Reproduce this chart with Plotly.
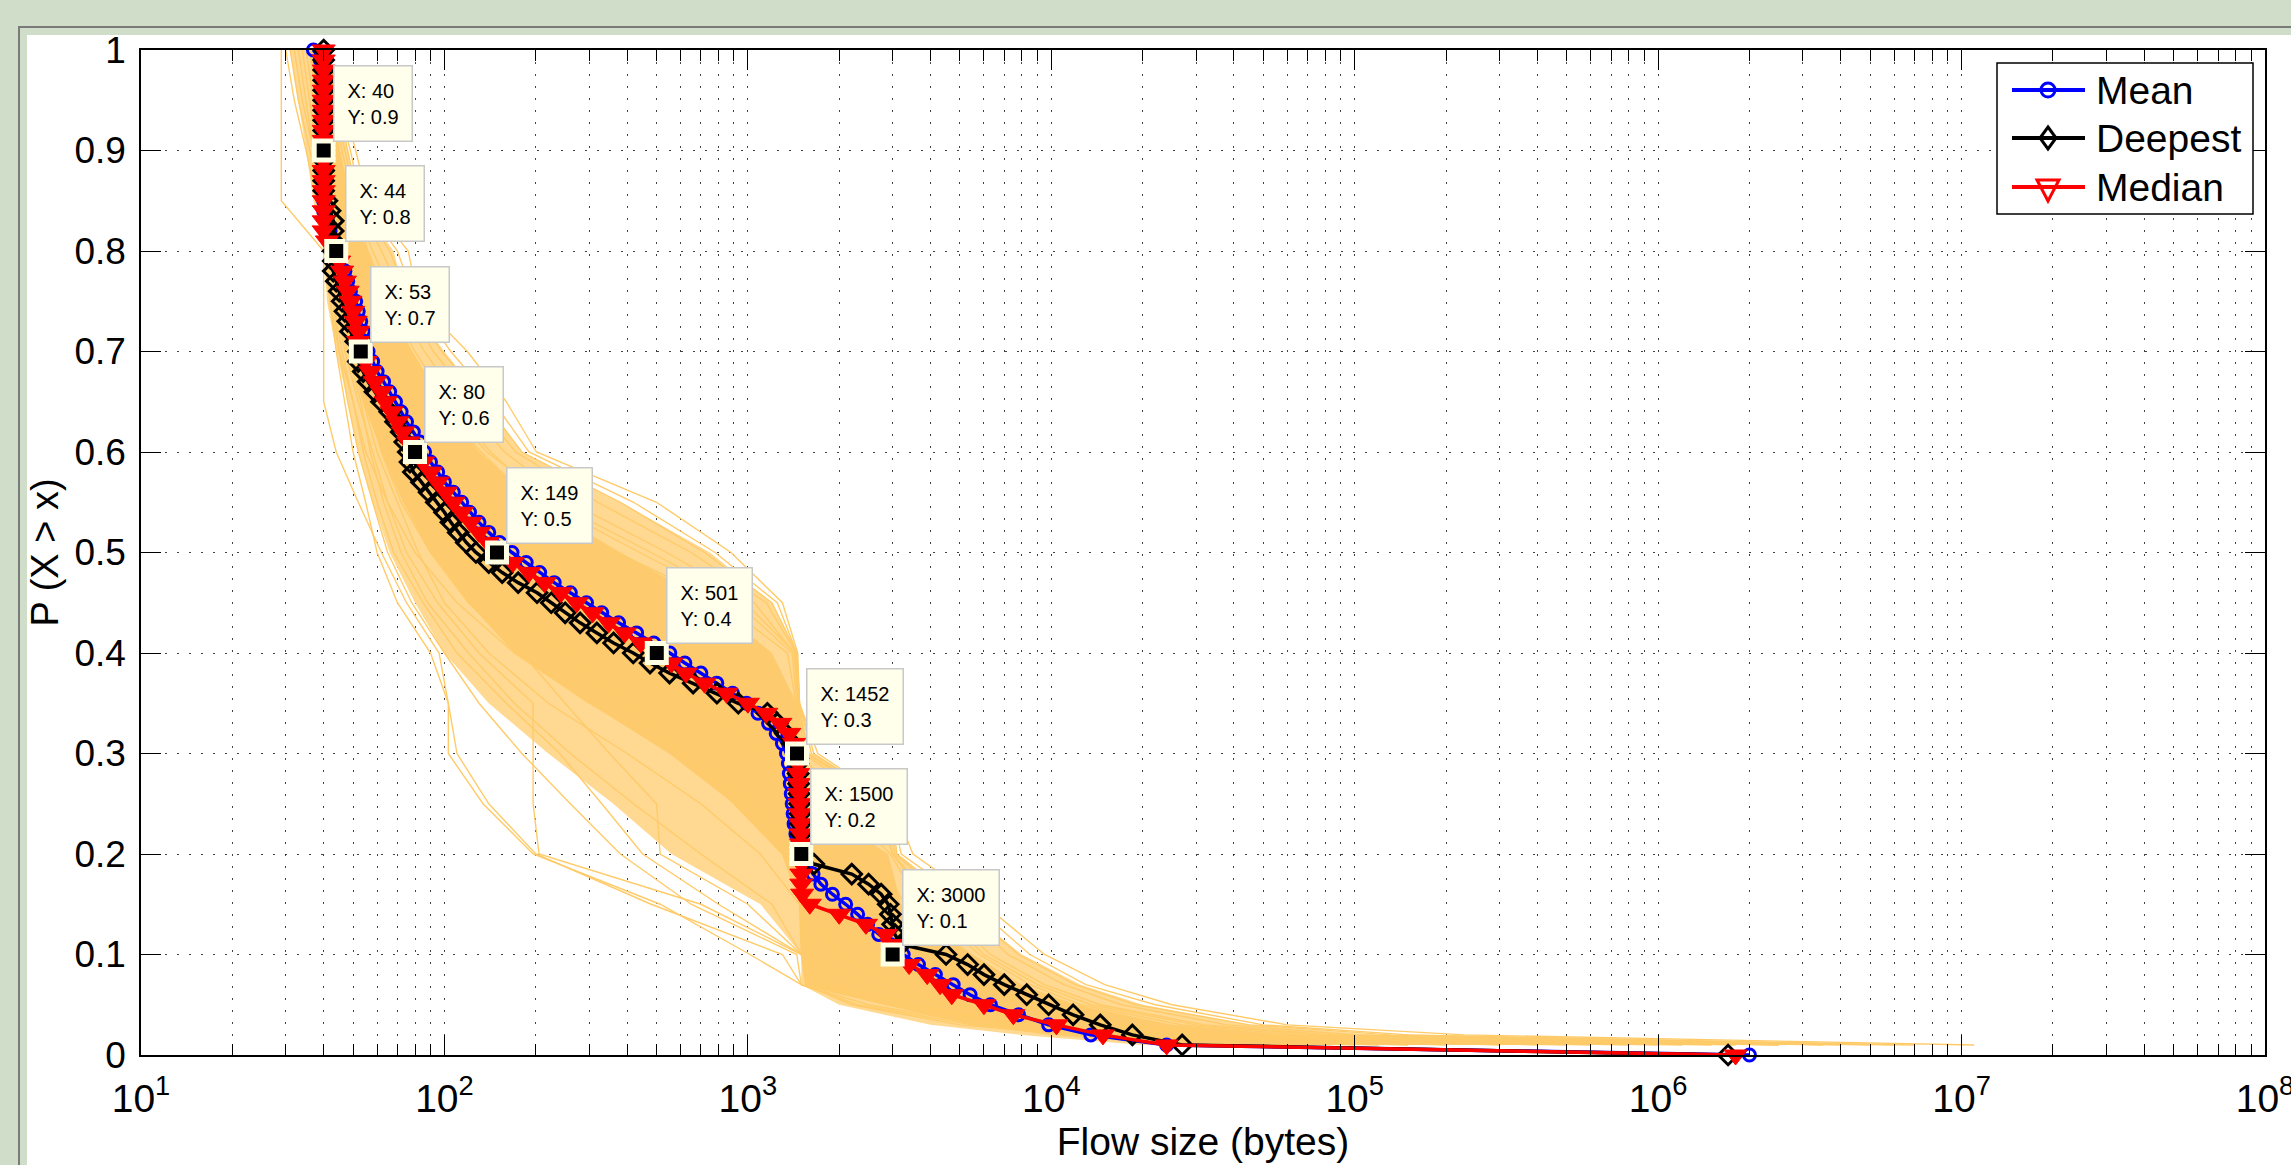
import math
import plotly.graph_objects as go

# ---------------- data ----------------
P_LEVELS = [1.00, 0.99, 0.98, 0.97, 0.96, 0.95, 0.94, 0.93, 0.92, 0.91,
            0.90, 0.89, 0.88, 0.87, 0.86, 0.85, 0.84, 0.83, 0.82, 0.81,
            0.80, 0.79, 0.78, 0.77, 0.76, 0.75, 0.74, 0.73, 0.72, 0.71,
            0.70, 0.69, 0.68, 0.67, 0.66, 0.65, 0.64, 0.63, 0.62, 0.61,
            0.60, 0.59, 0.58, 0.57, 0.56, 0.55, 0.54, 0.53, 0.52, 0.51,
            0.50, 0.49, 0.48, 0.47, 0.46, 0.45, 0.44, 0.43, 0.42, 0.41,
            0.40, 0.39, 0.38, 0.37, 0.36, 0.35, 0.34, 0.33, 0.32, 0.31,
            0.30, 0.29, 0.28, 0.27, 0.26, 0.25, 0.24, 0.23, 0.22, 0.21,
            0.20, 0.19, 0.18, 0.17, 0.16, 0.15, 0.14, 0.13, 0.12, 0.11,
            0.10, 0.09, 0.08, 0.07, 0.06, 0.05, 0.04, 0.03, 0.02, 0.01,
            0.00]

MEAN_X = [37, 39, 40, 40, 40, 40, 40, 40, 40, 40,
          40, 40, 40, 40, 40, 40, 40, 41, 42, 43,
          44, 45, 47, 48, 49, 51, 52, 53, 54, 55,
          56, 58, 60, 63, 66, 69, 72, 75, 79, 83,
          86, 90, 95, 100, 107, 114, 121, 130, 140, 152,
          167, 186, 206, 230, 260, 294, 330, 375, 430, 490,
          553, 620, 700, 790, 890, 990, 1080, 1170, 1240, 1300,
          1340, 1360, 1370, 1380, 1390, 1400, 1410, 1420, 1440, 1460,
          1490, 1560, 1640, 1740, 1900, 2100, 2300, 2480, 2700, 2950,
          3250, 3650, 4150, 4750, 5400, 6300, 7800, 9800, 13500, 24000,
          2000000]

DEEPEST_X = [40, 40, 40, 40, 40, 40, 40, 40, 40, 40,
             40, 40, 40, 40, 40, 41, 42, 43, 43, 43,
             43, 43, 43, 44, 45, 46, 47, 48, 49, 51,
             52, 52, 54, 56, 59, 62, 66, 69, 72, 74,
             76, 77, 79, 84, 89, 94, 100, 105, 111, 118,
             127, 140, 155, 175, 202, 225, 250, 280, 318, 361,
             419, 476, 552, 660, 791, 930, 1160, 1250, 1330, 1400,
             1450, 1460, 1465, 1470, 1475, 1480, 1485, 1490, 1495, 1498,
             1500, 1650, 2200, 2500, 2750, 2900, 2950, 3000, 3050, 3200,
             4500, 5300, 6000, 7000, 8300, 9800, 11800, 14500, 18500, 27000,
             1700000]

MEDIAN_X = [40, 40, 40, 40, 40, 40, 40, 40, 40, 40,
            40, 40, 40, 40, 40, 40, 40, 40, 40, 41,
            44, 45, 46, 47, 48, 49, 50, 51, 52, 52,
            53, 55, 57, 59, 62, 64, 67, 70, 73, 76,
            80, 85, 90, 95, 101, 107, 114, 122, 130, 139,
            149, 168, 190, 214, 242, 273, 308, 348, 393, 444,
            501, 560, 625, 720, 850, 1000, 1150, 1280, 1370, 1420,
            1452, 1460, 1465, 1470, 1475, 1480, 1485, 1490, 1495, 1498,
            1500, 1500, 1500, 1500, 1510, 1600, 2000, 2450, 2850, 2980,
            3000, 3400, 3900, 4300, 4700, 6000, 7500, 10400, 14800, 24000,
            1800000]

SERIES_NAMES = ["Mean", "Deepest", "Median"]

# individual flow-size CCDF samples (orange), read at these probability levels
ORANGE_Y = [1.00, 0.95, 0.90, 0.85, 0.80, 0.75, 0.70, 0.65, 0.60, 0.55, 0.50, 0.45,
            0.40, 0.35, 0.30, 0.25, 0.20, 0.15, 0.10, 0.07, 0.05, 0.03, 0.02, 0.01]

ORANGE_BAND_LEFT = [31, 33, 35, 37, 40, 41, 44, 48, 52, 58, 66, 80,
                    100, 140, 220, 360, 560, 1100, 1500, 1500, 2000, 4000, 8000, 20000]
ORANGE_BAND_RIGHT = [40, 44, 48, 52, 68, 75, 100, 135, 180, 380, 750, 1200,
                     1450, 1480, 1600, 2950, 3100, 5000, 8000, 12500, 20000, 45000, 120000, 6000000]
ORANGE_CORE_LEFT = [36, 38, 39, 40, 42, 45, 49, 54, 62, 73, 90, 120,
                    170, 300, 550, 900, 1300, 1480, 1500, 1550, 2800, 5500, 10000, 25000]
ORANGE_CORE_RIGHT = [40, 42, 45, 48, 56, 64, 78, 98, 130, 200, 380, 750,
                     1200, 1450, 1490, 1600, 2900, 3200, 5500, 8000, 12000, 25000, 60000, 2000000]

sample_L1 = [29, 29, 29, 29, 40, 42, 45, 50, 55, 65, 80, 110, 170, 300, 600, 1000, 1450, 1500, 2000, 3000, 5000, 9000, 20000, 200000]
sample_L2 = [33, 35, 37, 39, 40, 40, 40, 40, 44, 52, 62, 75, 96, 103, 103, 134, 196, 514, 1016, 1500, 2900, 8700, 31000, 300000]
sample_L3 = [31, 33, 36, 39, 41, 42, 44, 47, 50, 55, 60, 70, 90, 103, 110, 140, 200, 480, 1300, 1500, 2500, 6000, 15000, 100000]
sample_L4 = [35, 37, 39, 40, 42, 44, 47, 52, 58, 65, 75, 95, 130, 196, 196, 196, 205, 700, 1500, 1600, 3000, 7000, 20000, 500000]
sample_L5 = [37, 39, 40, 41, 43, 46, 50, 56, 62, 72, 90, 120, 180, 250, 350, 500, 514, 1000, 1500, 1800, 3500, 8000, 25000, 800000]
sample_L6 = [38, 40, 41, 42, 44, 48, 53, 60, 70, 85, 110, 160, 250, 400, 600, 900, 1300, 1500, 1600, 2500, 4500, 9000, 30000, 1000000]
sample_L7 = [34, 36, 38, 40, 41, 43, 46, 50, 54, 60, 68, 85, 110, 160, 240, 330, 450, 800, 1500, 1550, 2200, 5000, 12000, 150000]
sample_L8 = [36, 38, 40, 41, 42, 45, 49, 54, 60, 70, 82, 100, 140, 220, 400, 700, 1100, 1480, 1500, 2000, 3800, 8000, 22000, 600000]
sample_L9 = [30, 32, 35, 38, 41, 43, 45, 48, 52, 58, 65, 78, 100, 130, 180, 260, 380, 650, 1450, 1500, 2300, 5500, 13000, 120000]
sample_L10 = [32, 34, 37, 40, 42, 44, 48, 53, 57, 63, 72, 88, 120, 170, 260, 420, 700, 1200, 1500, 1700, 3000, 7500, 18000, 400000]
sample_M1 = [39, 41, 43, 46, 50, 56, 64, 75, 95, 130, 200, 330, 600, 1100, 1460, 1500, 1550, 2200, 3500, 5500, 9000, 18000, 45000, 2500000]
sample_M2 = [39, 40, 42, 44, 47, 52, 59, 68, 85, 115, 170, 270, 480, 900, 1400, 1480, 1500, 1900, 3000, 4800, 8000, 16000, 40000, 1500000]
sample_M3 = [38, 40, 41, 43, 45, 49, 55, 63, 76, 100, 140, 220, 380, 700, 1200, 1450, 1500, 1600, 2600, 4200, 7000, 14000, 35000, 1200000]
sample_U1 = [40, 46, 51, 56, 76, 82, 119, 160, 201, 500, 880, 1300, 1460, 1480, 1700, 3000, 3500, 6000, 9500, 15000, 25000, 60000, 230000, 11000000]
sample_U2 = [40, 44, 49, 53, 70, 80, 105, 145, 190, 420, 780, 1250, 1450, 1480, 1650, 2950, 3200, 5500, 8500, 13000, 22000, 50000, 150000, 6000000]
sample_U3 = [40, 43, 47, 51, 62, 74, 92, 125, 172, 320, 650, 1150, 1440, 1470, 1580, 2900, 3050, 4800, 7200, 11000, 17000, 38000, 100000, 5000000]
sample_U4 = [40, 42, 46, 50, 58, 69, 86, 112, 158, 260, 540, 1050, 1420, 1460, 1530, 2600, 3000, 4200, 6300, 9500, 14500, 32000, 85000, 3500000]
sample_U5 = [39, 41, 45, 49, 56, 65, 80, 102, 142, 215, 440, 920, 1400, 1450, 1500, 2000, 2950, 3700, 5800, 8500, 12500, 27000, 65000, 2500000]
sample_U6 = [39, 41, 44, 47, 53, 62, 76, 95, 132, 195, 370, 820, 1350, 1440, 1500, 1700, 2600, 3300, 5200, 7500, 11500, 24000, 55000, 1800000]
sample_U7 = [40, 42, 45, 48, 55, 63, 78, 98, 138, 230, 480, 980, 1430, 1470, 1560, 2800, 3000, 4000, 6000, 9000, 13500, 30000, 75000, 4000000]
sample_U8 = [40, 44, 48, 52, 66, 77, 98, 135, 180, 380, 720, 1200, 1450, 1480, 1620, 2950, 3100, 5000, 7800, 12000, 19000, 45000, 130000, 7000000]

DATATIP_X = [40, 44, 53, 80, 149, 501, 1452, 1500, 3000]
DATATIP_Y = [0.9, 0.8, 0.7, 0.6, 0.5, 0.4, 0.3, 0.2, 0.1]

X_TICK_VALS = [1e1, 1e2, 1e3, 1e4, 1e5, 1e6, 1e7, 1e8]
X_TICK_TEXT = ["10<sup>1</sup>", "10<sup>2</sup>", "10<sup>3</sup>", "10<sup>4</sup>",
               "10<sup>5</sup>", "10<sup>6</sup>", "10<sup>7</sup>", "10<sup>8</sup>"]
Y_TICK_VALS = [0, 0.1, 0.2, 0.3, 0.4, 0.5, 0.6, 0.7, 0.8, 0.9, 1.0]
Y_TICK_TEXT = ["0", "0.1", "0.2", "0.3", "0.4", "0.5", "0.6", "0.7", "0.8", "0.9", "1"]

# ---------------- style ----------------
FONT = "Liberation Sans, Arial, Helvetica, sans-serif"
ORANGE_LINE = "rgb(255,203,105)"
ORANGE_CORE = "rgb(253,203,110)"
ORANGE_BAND = "rgb(255,216,145)"
GRID = "rgba(20,20,20,0.8)"
W, H = 2291, 1165
ML, MR, MT, MB = 141, 26, 50, 110
PW, PH = W - ML - MR, H - MT - MB


def pxx(px):
    return (px - ML) / PW


def pxy(py):
    return (H - MB - py) / PH


fig = go.Figure()

# orange envelopes
fig.add_trace(go.Scatter(
    x=ORANGE_BAND_LEFT + ORANGE_BAND_RIGHT[::-1], y=ORANGE_Y + ORANGE_Y[::-1],
    fill="toself", fillcolor=ORANGE_BAND, mode="lines", line=dict(width=0),
    showlegend=False, hoverinfo="skip"))
fig.add_trace(go.Scatter(
    x=ORANGE_CORE_LEFT + ORANGE_CORE_RIGHT[::-1], y=ORANGE_Y + ORANGE_Y[::-1],
    fill="toself", fillcolor=ORANGE_CORE, mode="lines", line=dict(width=0),
    showlegend=False, hoverinfo="skip"))

samples = [sample_L1, sample_L2, sample_L3, sample_L4, sample_L5, sample_L6, sample_L7,
           sample_L8, sample_L9, sample_L10, sample_M1, sample_M2, sample_M3,
           sample_U1, sample_U2, sample_U3, sample_U4, sample_U5, sample_U6, sample_U7, sample_U8]
for s in samples:
    fig.add_trace(go.Scatter(x=s, y=ORANGE_Y, mode="lines",
                             line=dict(color=ORANGE_LINE, width=1.4),
                             showlegend=False, hoverinfo="skip"))

series = [
    (SERIES_NAMES[0], MEAN_X, "blue", dict(symbol="circle-open", size=12, line=dict(width=3, color="blue"))),
    (SERIES_NAMES[1], DEEPEST_X, "black", dict(symbol="diamond-open", size=15, line=dict(width=3, color="black"))),
    (SERIES_NAMES[2], MEDIAN_X, "red", dict(symbol="triangle-down", size=20, color="red", line=dict(width=1, color="red"))),
]
for name, xs, col, mk in series:
    fig.add_trace(go.Scatter(x=xs, y=P_LEVELS, mode="lines+markers", name=name,
                             line=dict(color=col, width=3.5), marker=mk,
                             showlegend=False, cliponaxis=False))

# data tips
fig.add_trace(go.Scatter(x=DATATIP_X, y=DATATIP_Y, mode="markers",
                         marker=dict(symbol="square", size=19, color="black",
                                     line=dict(color="#FFFFE4", width=5)),
                         showlegend=False, cliponaxis=False, hoverinfo="skip"))
for xv, yv in zip(DATATIP_X, DATATIP_Y):
    fig.add_annotation(x=math.log10(xv), y=yv, xref="x", yref="y",
                       text=f"X: {xv}<br>Y: {yv}", showarrow=False,
                       xanchor="left", yanchor="bottom", xshift=9, yshift=9,
                       align="left", font=dict(family=FONT, size=20, color="black"),
                       bgcolor="#FFFFEB", bordercolor="#C8C8C8", borderwidth=1.5, borderpad=13)

# frame of the figure window
fig.add_shape(type="rect", xref="paper", yref="paper", layer="below",
              x0=pxx(19), x1=pxx(2320), y0=pxy(1200), y1=pxy(27),
              line=dict(color="#7A7A7A", width=2), fillcolor="rgba(0,0,0,0)")
fig.add_shape(type="rect", xref="paper", yref="paper", layer="below",
              x0=pxx(27), x1=pxx(2320), y0=pxy(1200), y1=pxy(35),
              line=dict(width=0), fillcolor="white")

# legend box (drawn by hand to match the original proportions)
LEG_L, LEG_R, LEG_T, LEG_B = 1997, 2253, 63, 214
ROWS = [90, 138, 187]
LINE_X0, LINE_X1, MARK_X, TEXT_X = 2012, 2085, 2048, 2094
fig.add_shape(type="rect", xref="paper", yref="paper", layer="above",
              x0=pxx(LEG_L), x1=pxx(LEG_R), y0=pxy(LEG_B), y1=pxy(LEG_T),
              line=dict(color="black", width=1.5), fillcolor="white")
colors = ["blue", "black", "red"]
for name, col, ry in zip(SERIES_NAMES, colors, ROWS):
    fig.add_shape(type="line", xref="paper", yref="paper", layer="above",
                  x0=pxx(LINE_X0), x1=pxx(LINE_X1), y0=pxy(ry), y1=pxy(ry),
                  line=dict(color=col, width=4))
    fig.add_annotation(x=pxx(TEXT_X), y=pxy(ry), xref="paper", yref="paper",
                       text=name, showarrow=False, xanchor="left", yanchor="middle",
                       font=dict(family=FONT, size=39, color="black"))
# legend symbols
fig.add_shape(type="circle", xref="paper", yref="paper", layer="above",
              x0=pxx(MARK_X - 7), x1=pxx(MARK_X + 7), y0=pxy(ROWS[0] + 7), y1=pxy(ROWS[0] - 7),
              line=dict(color="blue", width=3), fillcolor="rgba(0,0,0,0)")
r1 = ROWS[1]
fig.add_shape(type="path", xref="paper", yref="paper", layer="above",
              path=(f"M {pxx(MARK_X)} {pxy(r1 - 11)} L {pxx(MARK_X + 8)} {pxy(r1)} "
                    f"L {pxx(MARK_X)} {pxy(r1 + 11)} L {pxx(MARK_X - 8)} {pxy(r1)} Z"),
              line=dict(color="black", width=3), fillcolor="rgba(0,0,0,0)")
r2 = ROWS[2]
fig.add_shape(type="path", xref="paper", yref="paper", layer="above",
              path=(f"M {pxx(MARK_X - 11)} {pxy(r2 - 7)} L {pxx(MARK_X + 11)} {pxy(r2 - 7)} "
                    f"L {pxx(MARK_X)} {pxy(r2 + 14)} Z"),
              line=dict(color="red", width=3), fillcolor="rgba(0,0,0,0)")

MINOR_X = [k * d for d in [1e1, 1e2, 1e3, 1e4, 1e5, 1e6, 1e7] for k in range(2, 10)]

fig.update_layout(
    width=W, height=H,
    margin=dict(l=ML, r=MR, t=MT, b=MB, pad=0, autoexpand=False),
    paper_bgcolor="#CFDDC9", plot_bgcolor="white",
    font=dict(family=FONT, color="black"),
    showlegend=False,
    xaxis=dict(type="log", range=[1, 8], tickmode="array", tickvals=X_TICK_VALS, ticktext=X_TICK_TEXT,
               ticks="inside", ticklen=20, tickwidth=1.2, tickcolor="black",
               showline=True, linecolor="black", linewidth=1.5, mirror="ticks",
               showgrid=True, gridcolor=GRID, gridwidth=1, griddash="1.5px,10.5px",
               minor=dict(tickmode="array", tickvals=MINOR_X, ticks="inside", ticklen=11,
                          tickwidth=1.2, tickcolor="black", showgrid=True,
                          gridcolor=GRID, gridwidth=1, griddash="1.5px,10.5px"),
               zeroline=False, tickfont=dict(family=FONT, size=39, color="black"),
               ticklabelstandoff=8, ticklabeloverflow="allow", automargin=False,
               title=dict(text="Flow size (bytes)", font=dict(family=FONT, size=39, color="black"),
                          standoff=0)),
    yaxis=dict(range=[0, 1], tickmode="array", tickvals=Y_TICK_VALS, ticktext=Y_TICK_TEXT,
               ticks="inside", ticklen=20, tickwidth=1.2, tickcolor="black",
               showline=True, linecolor="black", linewidth=1.5, mirror="ticks",
               showgrid=True, gridcolor=GRID, gridwidth=1, griddash="1.5px,10.5px",
               zeroline=False, tickfont=dict(family=FONT, size=37, color="black"),
               ticklabelstandoff=6, ticklabeloverflow="allow", automargin=False,
               title=dict(text="P (X > x)", font=dict(family=FONT, size=38, color="black"),
                          standoff=4)),
)

fig.write_html("out.html")
